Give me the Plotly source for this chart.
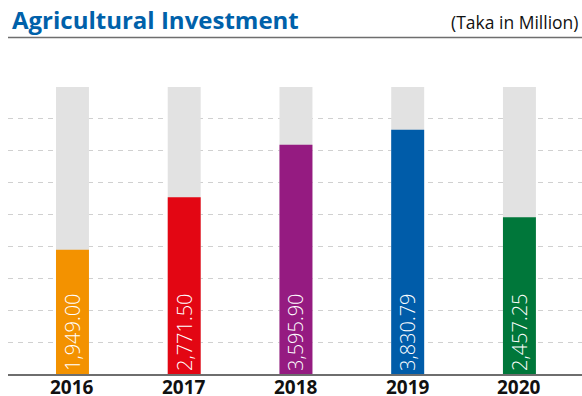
import plotly.graph_objects as go

# Annual agricultural investment, Taka in million
years = ["2016", "2017", "2018", "2019", "2020"]
values = [1949.00, 2771.50, 3595.90, 3830.79, 2457.25]
value_labels = ["1,949.00", "2,771.50", "3,595.90", "3,830.79", "2,457.25"]
bar_colors = ["#F39200", "#E30613", "#951B81", "#005CA9", "#00773A"]

axis_max = 4500
track = [axis_max] * len(years)

fig = go.Figure()

# Light grey track behind every bar
fig.add_trace(go.Bar(
    x=years, y=track, width=0.295,
    marker=dict(color="#E2E2E2", line=dict(width=0)),
    hoverinfo="skip", showlegend=False,
))

# Value bars with vertical labels
fig.add_trace(go.Bar(
    x=years, y=values, width=0.295,
    marker=dict(color=bar_colors, line=dict(width=0)),
    text=value_labels,
    textposition="inside",
    insidetextanchor="start",
    textangle=-90,
    textfont=dict(family="Open Sans", size=20, color="white", weight=300),
    cliponaxis=False,
    showlegend=False,
))

# Year labels under the baseline (category positions by index)
year_notes = [
    dict(
        text="<b>%s</b>" % yr, x=i, xref="x", yref="paper", y=-0.047,
        xanchor="center", yanchor="middle", showarrow=False,
        font=dict(family="Open Sans", size=19, color="#111111"),
    )
    for i, yr in enumerate(years)
]

fig.update_layout(
    width=582, height=396,
    margin=dict(l=8, r=0, t=87, b=22),
    paper_bgcolor="white", plot_bgcolor="white",
    barmode="overlay",
    xaxis=dict(
        type="category",
        range=[-0.577, 4.56],
        automargin=False,
        showline=True, linecolor="#6E6E6E", linewidth=1.5,
        ticks="", showgrid=False, showticklabels=False,
    ),
    yaxis=dict(
        range=[0, axis_max], dtick=500,
        automargin=False,
        showticklabels=False, zeroline=False,
        showgrid=True, gridcolor="#D0D0D0", gridwidth=1, griddash="5px,5px",
    ),
    shapes=[dict(
        type="line", xref="paper", yref="paper",
        x0=0, x1=1, y0=(396 - 22 - 37.5) / 287, y1=(396 - 22 - 37.5) / 287,
        line=dict(color="#6E6E6E", width=1.5),
    )],
    annotations=[
        dict(
            text="<b>Agricultural Investment</b>",
            xref="paper", yref="paper", x=0.003, y=(396 - 22 - 20) / 287,
            xanchor="left", yanchor="middle", showarrow=False,
            font=dict(family="Open Sans", size=24, color="#0061AA"),
        ),
        dict(
            text="(Taka in Million)",
            xref="paper", yref="paper", x=0.9985, y=(396 - 22 - 22) / 287,
            xanchor="right", yanchor="middle", showarrow=False,
            font=dict(family="Open Sans", size=17.5, color="#111111"),
        ),
    ] + year_notes,
)

fig.write_html("out.html")
